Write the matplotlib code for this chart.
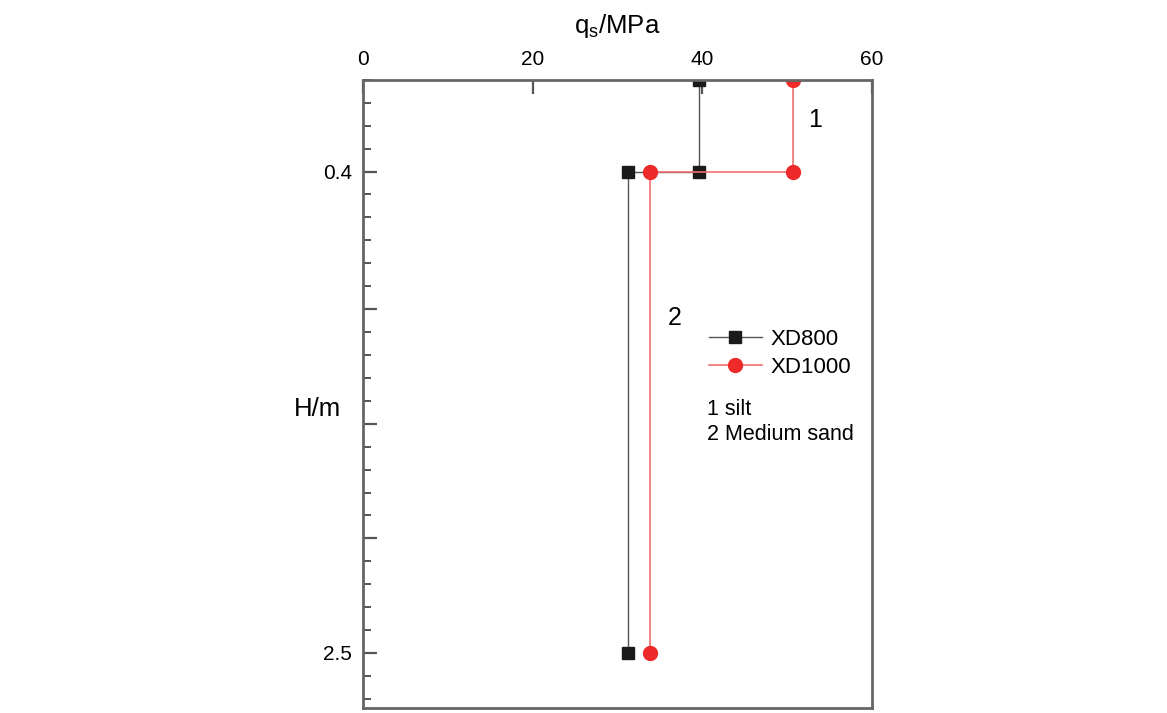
import numpy as np
import matplotlib.pyplot as plt
from matplotlib.ticker import FixedLocator, MultipleLocator

plt.rcParams['font.family'] = ['Liberation Sans', 'DejaVu Sans']

# данные (ступенчатый профиль по глубине)
depth = [0.0, 0.4, 0.4, 2.5]
qs_xd800 = [39.6, 39.6, 31.3, 31.3]
qs_xd1000 = [50.7, 50.7, 33.9, 33.9]
ytick_vals = [0.4, 1.0, 1.5, 2.0, 2.5]
ytick_labels = ['0.4', '', '', '', '2.5']

fig = plt.figure(figsize=(11.67, 7.13), dpi=100)
ax = fig.add_axes([0.311, 0.007, 0.436, 0.881])

ax.plot(qs_xd800, depth, '-', color='#555555', lw=1.0, marker='s', ms=9,
        mfc='#1a1a1a', mec='#1a1a1a', label='XD800')
ax.plot(qs_xd1000, depth, '-', color='#f07070', lw=1.2, marker='o', ms=10,
        mfc='#ee2a2a', mec='#ee2a2a', label='XD1000')

ax.set_xlim(0, 60)
ax.set_ylim(2.74, 0)
ax.xaxis.tick_top()
ax.xaxis.set_label_position('top')
ax.set_xticks([0, 20, 40, 60])
ax.yaxis.set_major_locator(FixedLocator(ytick_vals))
ax.set_yticklabels(ytick_labels)
ax.yaxis.set_minor_locator(MultipleLocator(0.1))
ax.tick_params(axis='both', which='major', direction='in', length=10, width=1.6,
               color='#555555', labelsize=15, pad=8)
ax.tick_params(axis='y', which='minor', direction='in', length=6, width=1.4, color='#555555')
for s in ax.spines.values():
    s.set_color('#666666')
    s.set_linewidth(2)

ax.set_xlabel('q$_\\mathregular{s}$/MPa', fontsize=18.5, labelpad=12)
fig.text(0.272, 0.427, 'H/m', fontsize=18.5, ha='center', va='center')

ax.text(53.3, 0.175, '1', fontsize=18, ha='center', va='center')
ax.text(36.8, 1.04, '2', fontsize=18, ha='center', va='center')

ax.legend(loc='upper left', bbox_to_anchor=(0.64, 0.635), frameon=False,
          fontsize=16, handlelength=2.4, handletextpad=0.4, labelspacing=0.3)
ax.text(0.677, 0.475, '1 silt', transform=ax.transAxes, fontsize=15.5, va='center')
ax.text(0.677, 0.435, '2 Medium sand', transform=ax.transAxes, fontsize=15.5, va='center')

plt.savefig('out.png')
